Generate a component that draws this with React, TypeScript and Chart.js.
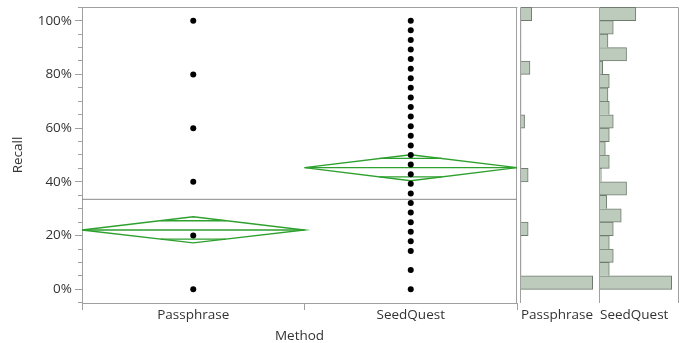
import React, { useEffect, useRef } from 'react';
import { Chart, registerables } from 'chart.js';

Chart.register(...registerables);

// ---------- data ----------
const methods = ['Passphrase', 'SeedQuest'];
// relative share of the x axis per group (JMP proportional x axis)
const groupWidths = [1.023, 0.977];

const passphraseRecall = [0, 20, 40, 60, 80, 100];
const seedQuestRecall = [
  0, 7.14, 14.29, 17.86, 21.43, 25, 28.57, 32.14, 35.71, 39.29, 42.86, 46.43, 50,
  53.57, 57.14, 60.71, 64.29, 67.86, 71.43, 75, 78.57, 82.14, 85.71, 89.29, 92.86,
  96.43, 100,
];

const groupMeans = [22.1, 45.3];
const ciLower = [17.3, 40.4];
const ciUpper = [27.0, 50.1];
const grandMean = 33.5;

const binStarts = [0, 5, 10, 15, 20, 25, 30, 35, 40, 45, 50, 55, 60, 65, 70, 75, 80, 85, 90, 95, 100];
const passphraseCounts = [40, 0, 0, 0, 4, 0, 0, 0, 4, 0, 0, 0, 2, 0, 0, 0, 5, 0, 0, 0, 6];
const seedQuestCounts = [54, 7, 10, 7, 10, 16, 5, 20, 1, 7, 4, 7, 10, 7, 6, 7, 2, 20, 6, 10, 27];

const yMin = -5.1;
const yMax = 105.1;
const binWidth = 5;

// ---------- styles ----------
const FONT_FAMILY = '"Open Sans", "Noto Sans", sans-serif';
const FONT_SIZE = 13.5;
const TEXT = '#333333';
const AXIS = '#a0a0a0';
const GREEN = '#2ea02e';
const BAR_FILL = '#bdcbbd';
const BAR_EDGE = '#6f7b6f';

const font = { family: FONT_FAMILY, size: FONT_SIZE };

const zeroPad = (s: any) => {
  s.paddingLeft = 0;
  s.paddingRight = 0;
  s.paddingTop = 0;
  s.paddingBottom = 0;
};

const framePlugin = (sides: { left?: boolean; right?: boolean; top?: boolean }) => ({
  id: 'frame',
  beforeDatasetsDraw(chart: any) {
    const { ctx, chartArea: a } = chart;
    ctx.save();
    ctx.strokeStyle = AXIS;
    ctx.lineWidth = 1;
    ctx.beginPath();
    const L = Math.round(a.left) - 0.5;
    const R = Math.round(a.right) + 0.5;
    const T = Math.round(a.top) + 0.5;
    const B = Math.round(a.bottom);
    if (sides.top) {
      ctx.moveTo(L, T);
      ctx.lineTo(R, T);
    }
    if (sides.left) {
      ctx.moveTo(L, T);
      ctx.lineTo(L, B);
    }
    if (sides.right) {
      const rx = sides.left ? R : R - 1;
      ctx.moveTo(rx, T);
      ctx.lineTo(rx, B);
    }
    ctx.stroke();
    ctx.restore();
  },
});

function buildMainConfig(): any {
  const starts: number[] = [];
  let acc = 0;
  groupWidths.forEach((w) => {
    starts.push(acc);
    acc += w;
  });
  const xMax = acc;
  const centers = starts.map((s, i) => s + groupWidths[i] / 2);
  const ends = starts.map((s, i) => s + groupWidths[i]);

  const lineDs = (data: any[], color: string, width = 1.4) => ({
    type: 'scatter',
    data,
    showLine: true,
    borderColor: color,
    backgroundColor: color,
    borderWidth: width,
    pointRadius: 0,
    pointHoverRadius: 0,
    tension: 0,
    fill: false,
  });

  const pointDs = (values: number[], i: number) => ({
    type: 'scatter',
    data: values.map((y) => ({ x: centers[i], y })),
    pointRadius: 3,
    pointBackgroundColor: '#000000',
    pointBorderWidth: 0,
    showLine: false,
  });

  const datasets: any[] = [pointDs(passphraseRecall, 0), pointDs(seedQuestRecall, 1)];

  methods.forEach((_, i) => {
    const m = groupMeans[i];
    const half = (ciUpper[i] - ciLower[i]) / 2;
    const d = half / Math.SQRT2;
    const chord = (groupWidths[i] / 2) * (1 - d / half);
    datasets.push(
      lineDs(
        [
          { x: starts[i], y: m },
          { x: centers[i], y: ciUpper[i] },
          { x: ends[i], y: m },
          { x: centers[i], y: ciLower[i] },
          { x: starts[i], y: m },
        ],
        GREEN
      )
    );
    datasets.push(lineDs([{ x: starts[i], y: m }, { x: ends[i], y: m }], GREEN));
    datasets.push(lineDs([{ x: centers[i] - chord, y: m + d }, { x: centers[i] + chord, y: m + d }], GREEN));
    datasets.push(lineDs([{ x: centers[i] - chord, y: m - d }, { x: centers[i] + chord, y: m - d }], GREEN));
  });

  datasets.push(lineDs([{ x: 0, y: grandMean }, { x: xMax, y: grandMean }], '#8a8a8a', 1));

  const xTickValues = [starts[0], centers[0], ends[0], centers[1], ends[1]];
  const xTickLabels = ['', methods[0], '', methods[1], ''];

  const yTickValues: number[] = [];
  for (let v = -5; v <= 105; v += 5) yTickValues.push(v);
  const isMajor = (v: number) => v >= 0 && v <= 100 && v % 20 === 0;

  return {
    type: 'scatter',
    data: { datasets },
    options: {
      responsive: false,
      animation: false,
      events: [],
      layout: { padding: { top: 7, right: 1, left: 0, bottom: 0 } },
      plugins: { legend: { display: false }, tooltip: { enabled: false } },
      scales: {
        x: {
          type: 'linear',
          min: 0,
          max: xMax,
          afterBuildTicks: (s: any) => {
            s.ticks = xTickValues.map((value) => ({ value }));
          },
          afterFit: (s: any) => {
            s.height = 40;
            zeroPad(s);
          },
          ticks: {
            autoSkip: false,
            maxRotation: 0,
            padding: -3,
            font,
            color: TEXT,
            callback: (_v: any, idx: number) => xTickLabels[idx],
          },
          grid: {
            drawOnChartArea: false,
            tickLength: 7,
            tickColor: (ctx: any) => (ctx.index % 2 === 1 ? 'rgba(0,0,0,0)' : AXIS),
          },
          border: { display: true, color: AXIS, width: 1 },
          title: {
            display: true,
            text: 'Method',
            font,
            color: TEXT,
            padding: { top: 0, bottom: -1 },
          },
        },
        y: {
          type: 'linear',
          min: yMin,
          max: yMax,
          afterBuildTicks: (s: any) => {
            s.ticks = yTickValues.map((value) => ({ value }));
          },
          afterFit: (s: any) => {
            s.width = 82;
            zeroPad(s);
          },
          ticks: {
            autoSkip: false,
            padding: 3,
            font,
            color: TEXT,
            callback: (v: number) => (isMajor(v) ? `${v}%` : ''),
          },
          grid: {
            drawOnChartArea: false,
            tickLength: 7,
            tickColor: AXIS,
            tickBorderDash: (ctx: any) => {
              const v = ctx.tick ? ctx.tick.value : 0;
              return isMajor(v) ? [] : [0, 3, 4, 20];
            },
          },
          border: { display: true, color: AXIS, width: 1 },
          title: {
            display: true,
            text: 'Recall',
            font,
            color: TEXT,
            padding: { top: 10, bottom: 0 },
          },
        },
      },
    },
    plugins: [framePlugin({ top: true, right: true })],
  };
}

function buildHistConfig(name: string, counts: number[]): any {
  const maxCount = Math.max(...counts);
  const data = binStarts.map((b, i) => ({ x: counts[i], y: b + binWidth / 2 }));
  return {
    type: 'bar',
    data: {
      datasets: [
        {
          data,
          backgroundColor: BAR_FILL,
          borderColor: BAR_EDGE,
          borderSkipped: 'start',
          borderWidth: (ctx: any) => {
            const i = ctx.dataIndex;
            const c = counts[i];
            if (!c) return 0;
            const below = i > 0 ? counts[i - 1] : 0;
            return { top: 1, right: 1, left: 0, bottom: i === 0 || below < c ? 1 : 0 };
          },
          barPercentage: 1,
          categoryPercentage: 1,
        },
      ],
    },
    options: {
      indexAxis: 'y',
      responsive: false,
      animation: false,
      events: [],
      layout: { padding: { top: 7, right: 1, left: 1, bottom: 0 } },
      plugins: { legend: { display: false }, tooltip: { enabled: false } },
      scales: {
        y: {
          type: 'linear',
          min: yMin,
          max: yMax,
          offset: false,
          grid: { offset: false },
          display: false,
        },
        x: {
          type: 'linear',
          min: 0,
          max: maxCount * 1.088,
          afterFit: (s: any) => {
            s.height = 40;
            zeroPad(s);
          },
          ticks: { display: false },
          grid: { display: false },
          border: { display: false },
          title: {
            display: true,
            text: name,
            align: 'start',
            font,
            color: TEXT,
            padding: { top: 0, bottom: 20 },
          },
        },
      },
    },
    plugins: [framePlugin({ top: true, left: true, right: true })],
  };
}

function ChartCanvas({ config, left, width }: { config: () => any; left: number; width: number }) {
  const ref = useRef<HTMLCanvasElement | null>(null);
  useEffect(() => {
    if (!ref.current) return;
    const chart = new Chart(ref.current, config());
    return () => chart.destroy();
  }, []);
  return (
    <canvas
      ref={ref}
      width={width}
      height={343}
      style={{ position: 'absolute', left, top: 0, width, height: 343 }}
    />
  );
}

export default function App() {
  return (
    <div style={{ position: 'absolute', left: 0, top: 0, width: 689, height: 343, background: '#fff' }}>
      <ChartCanvas config={buildMainConfig} left={0} width={521} />
      <ChartCanvas config={() => buildHistConfig(methods[0], passphraseCounts)} left={520} width={80} />
      <ChartCanvas config={() => buildHistConfig(methods[1], seedQuestCounts)} left={599} width={80} />
    </div>
  );
}
